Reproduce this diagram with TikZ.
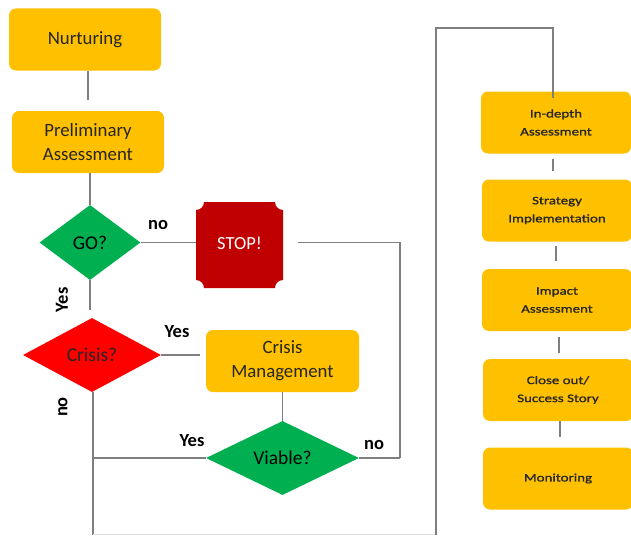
\documentclass[tikz,border=0pt]{standalone}
\usepackage{fontspec}
\setmainfont{Carlito}
\newfontfamily\widefont[FakeStretch=1.3,FakeBold=1.2]{Carlito}
\usetikzlibrary{shapes.geometric}
\definecolor{boxyellow}{HTML}{FFC000}
\definecolor{gogreen}{HTML}{00B050}
\definecolor{crisisred}{HTML}{FF0000}
\definecolor{stopred}{HTML}{C00000}
\definecolor{linegray}{HTML}{7F7F7F}
\definecolor{textdark}{HTML}{262626}
\tikzset{
  stagebox/.style={draw=none, fill=boxyellow, rounded corners=7pt, align=center,
    text=textdark, font=\fontsize{18.8}{24}\selectfont,
    minimum width=152pt, minimum height=62pt, inner sep=0pt},
  sidebox/.style={draw=none, fill=boxyellow, rounded corners=7pt, align=center,
    text=textdark, font=\widefont\fontsize{11.5}{18}\selectfont,
    minimum width=150pt, minimum height=62pt, inner sep=0pt},
  decision/.style={diamond, draw=none, inner sep=0pt, align=center,
    font=\fontsize{19.5}{22}\selectfont},
  link/.style={draw=linegray, line width=1.1pt},
  edgelabel/.style={font=\bfseries\fontsize{18.5}{20}\selectfont, text=black, inner sep=0pt}
}
\begin{document}
\begin{tikzpicture}[x=1pt, y=-1pt]
\useasboundingbox (0,0) rectangle (631,535);

% main flow
\node[stagebox] (nurt) at (85,39.5) {Nurturing};
\node[stagebox] (prelim) at (88,142) {Preliminary\\Assessment};
\node[decision, fill=gogreen, minimum width=101pt, minimum height=75pt] (go) at (90,242.5) {GO?};
\node[decision, fill=crisisred, minimum width=138pt, minimum height=74pt, text=black!85] (crisis) at (92,355) {Crisis?};
\node[stagebox, minimum width=153pt] (cm) at (282.5,361) {Crisis\\Management};
\node[decision, fill=gogreen, minimum width=153pt, minimum height=74pt] (viable) at (282.5,458) {Viable?};

% stop sign with concave corners
\fill[stopred] (204,202) -- (275,202)
  .. controls (275,206.4) and (278.6,210) .. (283,210)
  -- (283,280)
  .. controls (278.6,280) and (275,283.6) .. (275,288)
  -- (204,288)
  .. controls (204,283.6) and (200.4,280) .. (196,280)
  -- (196,210)
  .. controls (200.4,210) and (204,206.4) .. (204,202) -- cycle;
\node[text=white, font=\fontsize{18.5}{20}\selectfont, inner sep=0pt] (stoptext) at (239.5,243) {STOP!};
\coordinate (stopW) at (196,242.5);
\coordinate (stopE) at (298,242.5);

% side column
\node[sidebox] (indepth) at (556,122.5) {In-depth\\Assessment};
\node[sidebox] (strategy) at (557,210.5) {Strategy\\Implementation};
\node[sidebox] (impact) at (557,300) {Impact\\Assessment};
\node[sidebox] (closeout) at (558,390) {Close out/\\Success Story};
\node[sidebox] (monitor) at (558,478.5) {Monitoring};

% routing points
\coordinate (rjoin) at (400,458);
\coordinate (ljoin) at (93,458);
\coordinate (bottomL) at (93,534.5);
\coordinate (bottomR) at (436,534.5);
\coordinate (topR) at (553,28);

% connectors
\draw[link, shorten >=11pt] (prelim.north |- nurt.south) -- (prelim.north);
\draw[link] (go.north |- prelim.south) -- (go.north);
\draw[link] (go.east) -- (stopW);
\draw[link] (stopE) -| (rjoin);
\draw[link] (viable.east) -- (rjoin);
\draw[link, shorten >=8pt] (go.south) -- (go.south |- crisis.north);
\draw[link, shorten >=6pt] (crisis.east) -- (crisis.east -| cm.west);
\draw[link] (cm.south) -- (viable.north);
\draw[link] (viable.west) -- (ljoin);
\draw[link] (ljoin |- crisis.south) -- (bottomL);
\draw[draw=linegray!25, line width=1pt] (bottomL) -- (bottomR);
\draw[link] (bottomR) |- (topR) -- ([xshift=-3pt, yshift=-7pt]indepth.north);
\draw[link, shorten <=5pt, shorten >=8pt] ([xshift=-3pt]indepth.south) -- ([xshift=-3pt]indepth.south |- strategy.north);
\draw[link, shorten <=4pt, shorten >=8pt] ([xshift=-1pt]strategy.south) -- ([xshift=-1pt]strategy.south |- impact.north);
\draw[link, shorten <=6pt, shorten >=6pt] ([xshift=2pt]impact.south) -- ([xshift=2pt]impact.south |- closeout.north);
\draw[link, shorten >=10pt] ([xshift=2pt]closeout.south) -- ([xshift=2pt]closeout.south |- monitor.north);

% branch labels
\node[edgelabel] (lno1) at (158,225) {no};
\node[edgelabel, rotate=90] (lyes1) at (62,300) {Yes};
\node[edgelabel] (lyes2) at (177,332) {Yes};
\node[edgelabel, rotate=90] (lno2) at (63,407) {no};
\node[edgelabel] (lyes3) at (192,441) {Yes};
\node[edgelabel] (lno3) at (374,445) {no};
\end{tikzpicture}
\end{document}
